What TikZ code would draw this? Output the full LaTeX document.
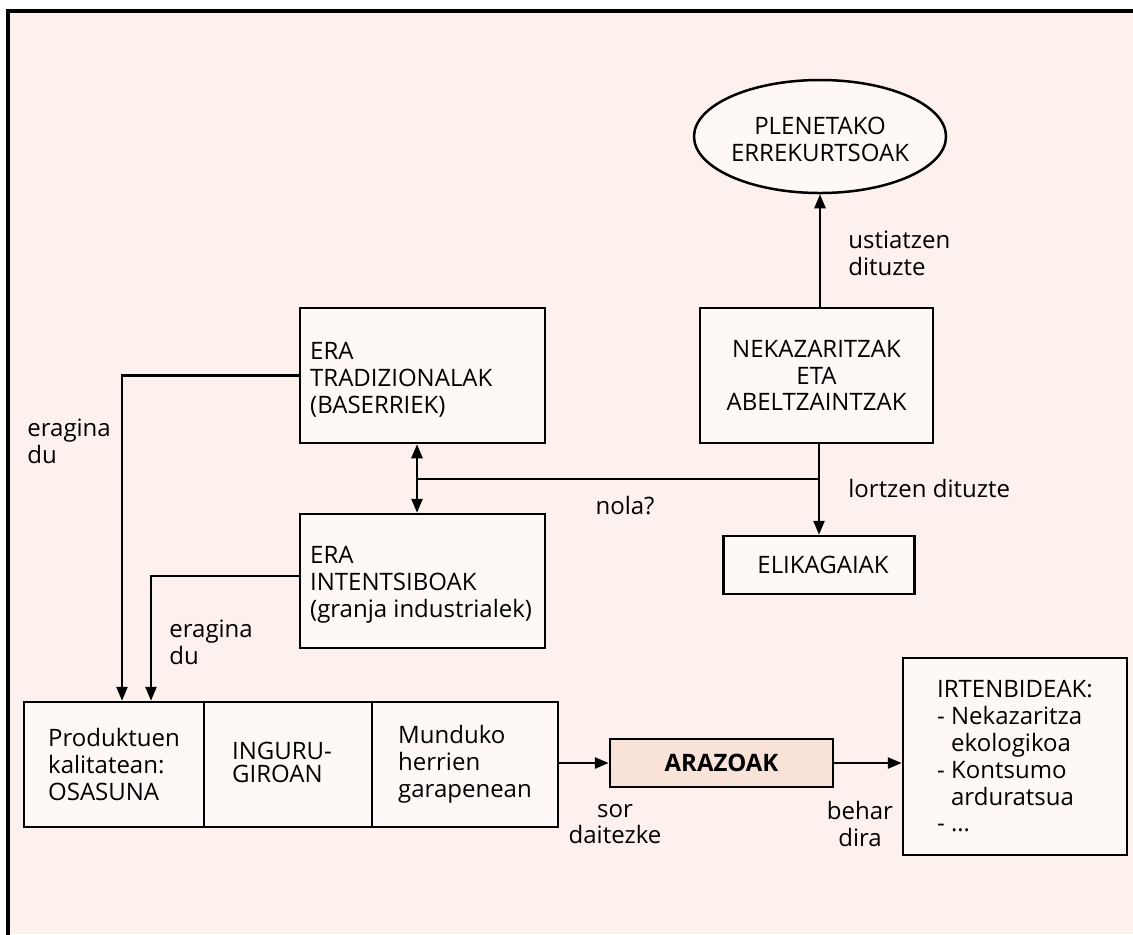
\documentclass[tikz,border=0pt]{standalone}
\usepackage{fontspec}
\setmainfont{Open Sans}
\usetikzlibrary{shapes.geometric,arrows.meta}
\definecolor{pagebg}{RGB}{252,241,237}
\definecolor{boxfill}{RGB}{254,249,247}
\definecolor{probfill}{RGB}{249,227,217}
\tikzset{
  txt/.style={font={\fontsize{12}{13.4}\selectfont}, text=black, inner sep=0pt},
  box/.style={draw, line width=1.25pt, fill=boxfill, inner sep=0pt, txt},
  link/.style={line width=1.25pt},
  arr/.style={link, -{Triangle[length=7pt,width=5.5pt]}},
  darr/.style={link, {Triangle[length=7pt,width=5.5pt]}-{Triangle[length=7pt,width=5.5pt]}},
}
\begin{document}
\begin{tikzpicture}[x=0.5pt,y=-0.5pt]
\useasboundingbox (0,0) rectangle (1133,934);
\clip (0,0) rectangle (1133,934);
\fill[white] (0,0) rectangle (1133,934);
\fill[pagebg] (8,11) rectangle (1133,934);
\draw[line width=1.6pt] (8,960) -- (8,11) -- (1160,11);

% resources and agriculture
\node[box, ellipse, minimum width=126pt, minimum height=56.5pt] (res) at (820,136.5)
  {\raisebox{-3pt}[\height][\depth]{\begin{tabular}{@{}c@{}}PLENETAKO\\ERREKURTSOAK\end{tabular}}};
\node[box, align=center, minimum width=116.5pt, minimum height=67.5pt] (nek) at (816.5,375.5)
  {NEKAZARITZAK\\ETA\\ABELTZAINTZAK};
\node[box, minimum width=95.5pt, minimum height=29pt] (elik) at (819,565) {\hspace{4pt}ELIKAGAIAK};

% farming methods
\node[box, minimum width=122.5pt, minimum height=67.5pt] (trad) at (422.5,375.5) {};
\node[txt, anchor=west, align=left] (tradtxt) at ([xshift=5.5pt,yshift=-2pt]trad.west)
  {ERA\\TRADIZIONALAK\\(BASERRIEK)};
\node[box, minimum width=122.5pt, minimum height=67pt] (int) at (422.5,581) {};
\node[txt, anchor=west, align=left] (inttxt) at ([xshift=5.5pt,yshift=-2pt]int.west)
  {ERA\\INTENTSIBOAK\\(granja industrialek)};

% effects row
\node[box, align=left, minimum width=90pt, minimum height=62.5pt] (prod) at (114,764.5)
  {Produktuen\\kalitatean:\\OSASUNA};
\node[box, minimum width=84pt, minimum height=62.5pt] (ingur) at (288,764.5) {};
\node[txt, align=left, font={\fontsize{12}{11.8}\selectfont}] (ingurtxt)
  at ([xshift=-3pt,yshift=1pt]ingur.center) {INGURU-\\GIROAN};
\node[box, align=left, minimum width=93pt, minimum height=62.5pt] (mundu) at (465,764.5)
  {Munduko\\herrien\\garapenean};
\node[box, fill=probfill, minimum width=111.5pt, minimum height=24pt,
      font={\fontsize{12}{13.4}\selectfont\bfseries}] (araz) at (721.5,763)
  {ARAZOAK};
\node[box, align=left, minimum width=112pt, minimum height=98.5pt] (irten) at (1015,756.5)
  {IRTENBIDEAK:\\- Nekazaritza\\\hphantom{- }ekologikoa\\- Kontsumo\\\hphantom{- }arduratsua\\- \dots};

% connector labels
\node[txt, anchor=west, align=left] (lust) at (848,253) {ustiatzen\\dituzte};
\node[txt, anchor=west] (llor) at (848,488) {lortzen dituzte};
\node[txt] (lnola) at (625,506) {nola?};
\node[txt, anchor=west, align=left] (ler1) at (27,441) {eragina\\du};
\node[txt, anchor=west, align=left] (ler2) at (169,642) {eragina\\du};
\node[txt, align=center] (lsor) at (615,824) {sor\\daitezke};
\node[txt, align=center] (lbeh) at (860,824) {behar\\dira};

% connectors
\draw[arr] (res.south |- nek.north) -- (res.south);
\draw[arr] (elik.north |- nek.south) -- (elik.north);
\coordinate (j) at (819,479);
\coordinate (k) at (417,479);
\draw[link] (k) -- (j);
\draw[darr] (k |- trad.south) -- (k |- int.north);
\coordinate (c1) at (122,0);
\coordinate (c2) at (151,0);
\draw[arr] (trad.west) -| (c1 |- prod.north);
\draw[arr] ([yshift=2.5pt]int.west) -| (c2 |- prod.north);
\draw[arr] (araz.west -| mundu.east) -- (araz.west);
\draw[arr] (araz.east) -- (irten.west |- araz.east);
\end{tikzpicture}
\end{document}
